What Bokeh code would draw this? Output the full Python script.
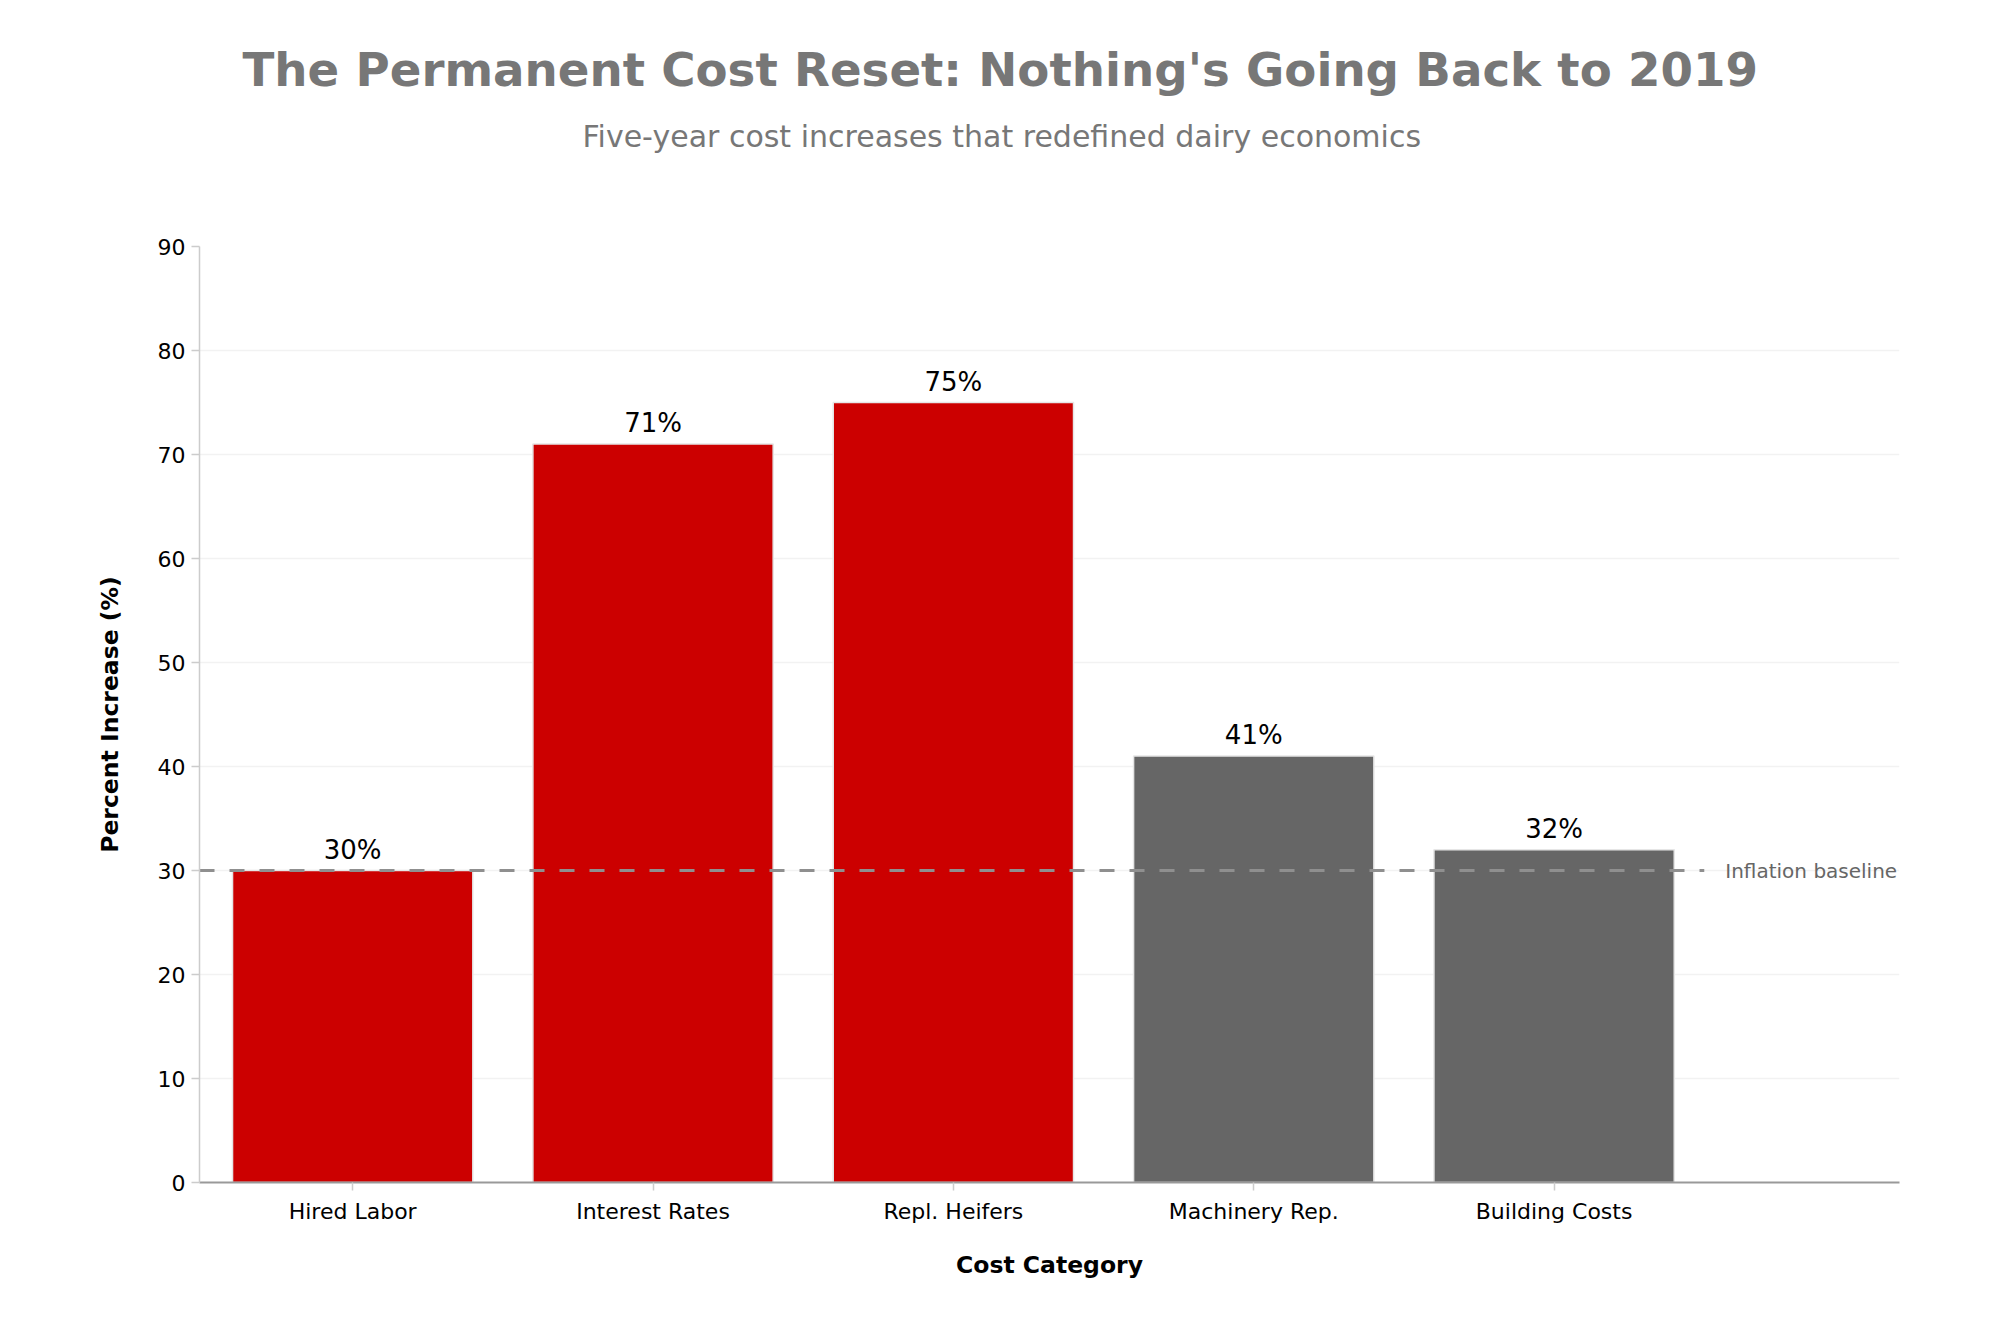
from bokeh.plotting import figure
from bokeh.models import ColumnDataSource, FixedTicker, SingleIntervalTicker, Range1d, Title, Label
from bokeh.embed import file_html
from bokeh.resources import INLINE

categories = ["Hired Labor", "Interest Rates", "Repl. Heifers", "Machinery Rep.", "Building Costs"]
increase_pct = [30, 71, 75, 41, 32]
highlight = [True, True, True, False, False]
inflation_baseline = 30

FONT = "DejaVu Sans"
xs = list(range(len(categories)))
bar_colors = ["#cc0000" if h else "#666666" for h in highlight]
labels = [f"{v}%" for v in increase_pct]

src = ColumnDataSource(dict(x=xs, top=increase_pct, color=bar_colors, label=labels))

p = figure(width=1995, height=1328, output_backend="svg", toolbar_location=None,
           x_range=Range1d(-0.51, 5.15), y_range=Range1d(0, 90),
           min_border_left=199, min_border_right=96, min_border_top=246, min_border_bottom=146)
p.outline_line_color = None
p.background_fill_color = "white"
p.border_fill_color = "white"

p.vbar(x="x", top="top", width=0.8, bottom=0, source=src, fill_color="color",
       line_color="#e6e6e6", line_width=1.5)

p.line(x=[-0.51, 4.5], y=[inflation_baseline, inflation_baseline], line_color="#8f8f8f",
       line_width=3, line_dash="15 15")
p.add_layout(Label(x=4.57, y=inflation_baseline, text="Inflation baseline", text_font=FONT,
                   text_font_size="20px", text_color="#666666", text_baseline="middle",
                   text_align="left"))

p.text(x="x", y="top", text="label", source=src, text_font={"value": FONT},
       text_font_size="26px", text_color="black", text_align="center",
       text_baseline="alphabetic", y_offset=-21)

# axes
p.xaxis.ticker = FixedTicker(ticks=xs)
p.xaxis.major_label_overrides = {i: c for i, c in zip(xs, categories)}
p.xaxis.axis_label = "Cost Category"
p.yaxis.ticker = SingleIntervalTicker(interval=10)
p.yaxis.axis_label = "Percent Increase (%)"
for ax in (p.xaxis, p.yaxis):
    ax.major_label_text_font = FONT
    ax.major_label_text_font_size = "22px"
    ax.major_label_text_color = "black"
    ax.axis_label_text_font = FONT
    ax.axis_label_text_font_size = "23.5px"
    ax.axis_label_text_font_style = "bold"
    ax.axis_label_text_color = "black"
    ax.minor_tick_line_color = None
    ax.major_tick_in = 0
    ax.major_tick_out = 8
    ax.major_tick_line_color = "#cccccc"
    ax.major_tick_line_width = 1.5
p.xaxis.axis_line_color = "#999999"
p.xaxis.axis_line_width = 2
p.yaxis.axis_line_color = "#cccccc"
p.yaxis.axis_line_width = 1.5
p.xaxis.major_label_standoff = 8
p.yaxis.major_label_standoff = 6
p.xaxis.axis_label_standoff = 24
p.yaxis.axis_label_standoff = 31

p.xgrid.grid_line_color = None
p.ygrid.grid_line_color = "#f2f2f2"
p.ygrid.grid_line_width = 1.5

p.title = None
# blank spacer panel directly above the frame
p.add_layout(Title(text=" ", text_font=FONT, text_font_size="29px", standoff=57), "above")
p.add_layout(Title(text="Five-year cost increases that redefined dairy economics", align="left",
                   offset=383, text_font=FONT, text_font_size="30px", text_font_style="normal",
                   text_color="#777777", standoff=0), "above")
p.add_layout(Title(text="The Permanent Cost Reset: Nothing's Going Back to 2019", align="left",
                   offset=43, text_font=FONT, text_font_size="46.7px", text_font_style="bold",
                   text_color="#777777", standoff=40), "above")

open("out.html", "w").write(file_html(p, INLINE))
